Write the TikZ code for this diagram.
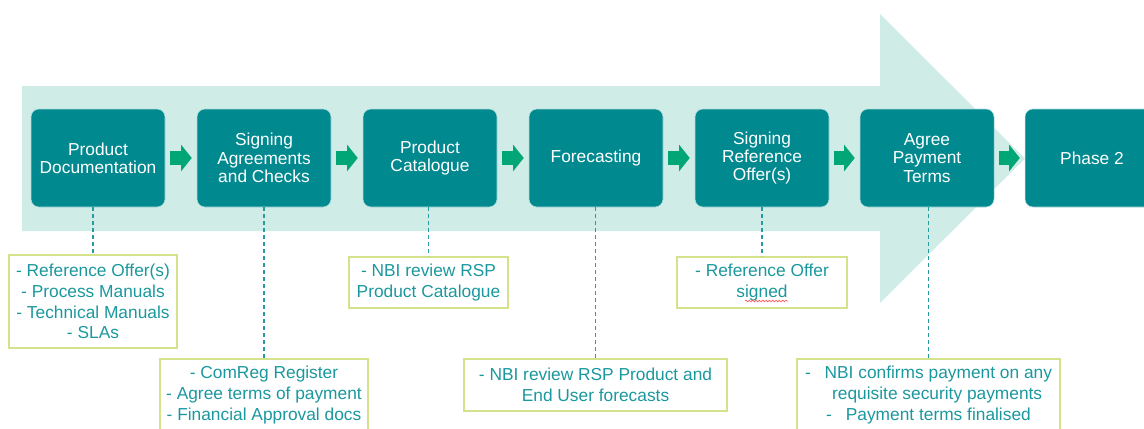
\documentclass[tikz,border=0pt]{standalone}
\usepackage{fontspec}
\setmainfont{Liberation Sans}
\usetikzlibrary{arrows.meta,decorations.pathmorphing}
\definecolor{boxteal}{HTML}{00898F}
\definecolor{bgmint}{HTML}{CFEDE6}
\definecolor{arrowgreen}{HTML}{00A676}
\definecolor{noteteal}{HTML}{1A989E}
\definecolor{noteborder}{HTML}{D5E28C}
\tikzset{stepbox/.style={rectangle, rounded corners=6pt, minimum width=100.5pt, minimum height=73.5pt, align=center, fill=boxteal, draw=white!70!boxteal, text=white, font=\fontsize{13}{13.7}\selectfont},
note/.style={rectangle, draw=noteborder, line width=1.1pt, align=center, inner sep=0pt, text=noteteal, font=\fontsize{13}{15.5}\selectfont},
arrowstep/.style={-{Triangle[length=8pt,width=20pt,line width=0pt]}, line width=11pt, arrowgreen, shorten <=3.75pt, shorten >=3.75pt},
link/.style={boxteal!85, line width=1.1pt, dash pattern=on 3pt off 2.25pt}}

\begin{document}
\begin{tikzpicture}[x=0.75pt,y=-0.75pt]
\clip (0,0) rectangle (1144,428);

\fill[bgmint] (22,86) -- (880,86) -- (880,14) -- (1025,158.5) -- (880,303) -- (880,231) -- (22,231) -- cycle;

\node (p1) at (98,158)[stepbox]{Product\\Documentation};
\node (p2) at (264,158)[stepbox]{Signing\\Agreements\\and Checks};
\node (p3) at (430,158)[stepbox]{Product\\Catalogue};
\node (p4) at (596,158)[stepbox]{Forecasting};
\node (p5) at (762,158)[stepbox]{Signing\\Reference\\Offer(s)};
\node (p6) at (927,158)[stepbox]{Agree\\Payment\\Terms};
\node (p7) at (1092,158)[stepbox]{Phase 2};

\draw[arrowstep] (p1.east) -- (p2.west);
\draw[arrowstep] (p2.east) -- (p3.west);
\draw[arrowstep] (p3.east) -- (p4.west);
\draw[arrowstep] (p4.east) -- (p5.west);
\draw[arrowstep] (p5.east) -- (p6.west);
\draw[arrowstep] (p6.east) -- (p7.west);

\node (n1) at (93,301.5)[note,minimum width=126pt,minimum height=69.75pt]{- Reference Offer(s)\\- Process Manuals\\- Technical Manuals\\- SLAs};
\node (n2) at (264,395)[note,minimum width=156pt,minimum height=54pt]{- ComReg Register\\- Agree terms of payment\\- Financial Approval docs};
\node (n3) at (428.5,282.5)[note,minimum width=119.25pt,minimum height=38.25pt]{- NBI review RSP\\Product Catalogue};
\node (n4) at (595.5,385)[note,minimum width=197.25pt,minimum height=39pt]{- NBI review RSP Product and\\End User forecasts};
\node (n5) at (762,282.5)[note,minimum width=127.5pt,minimum height=38.25pt]{- Reference Offer\\signed};
\node (n6) at (928.5,395)[note,minimum width=197.25pt,minimum height=54pt]{-\hspace{0.8em}NBI confirms payment on any\\\hspace*{13pt}requisite security payments\\-\hspace{0.8em}Payment terms finalised};

\draw[link] (n1.north |- p1.south) -- (n1.north);
\draw[link] (n2.north |- p2.south) -- (n2.north);
\draw[link] (n3.north |- p3.south) -- (n3.north);
\draw[link] (n4.north |- p4.south) -- (n4.north);
\draw[link] (n5.north |- p5.south) -- (n5.north);
\draw[link] (n6.north |- p6.south) -- (n6.north);

\draw[red!65, line width=0.5pt, decorate, decoration={snake, amplitude=0.6pt, segment length=2.5pt}] (745,301) -- (788,301);
\end{tikzpicture}
\end{document}
